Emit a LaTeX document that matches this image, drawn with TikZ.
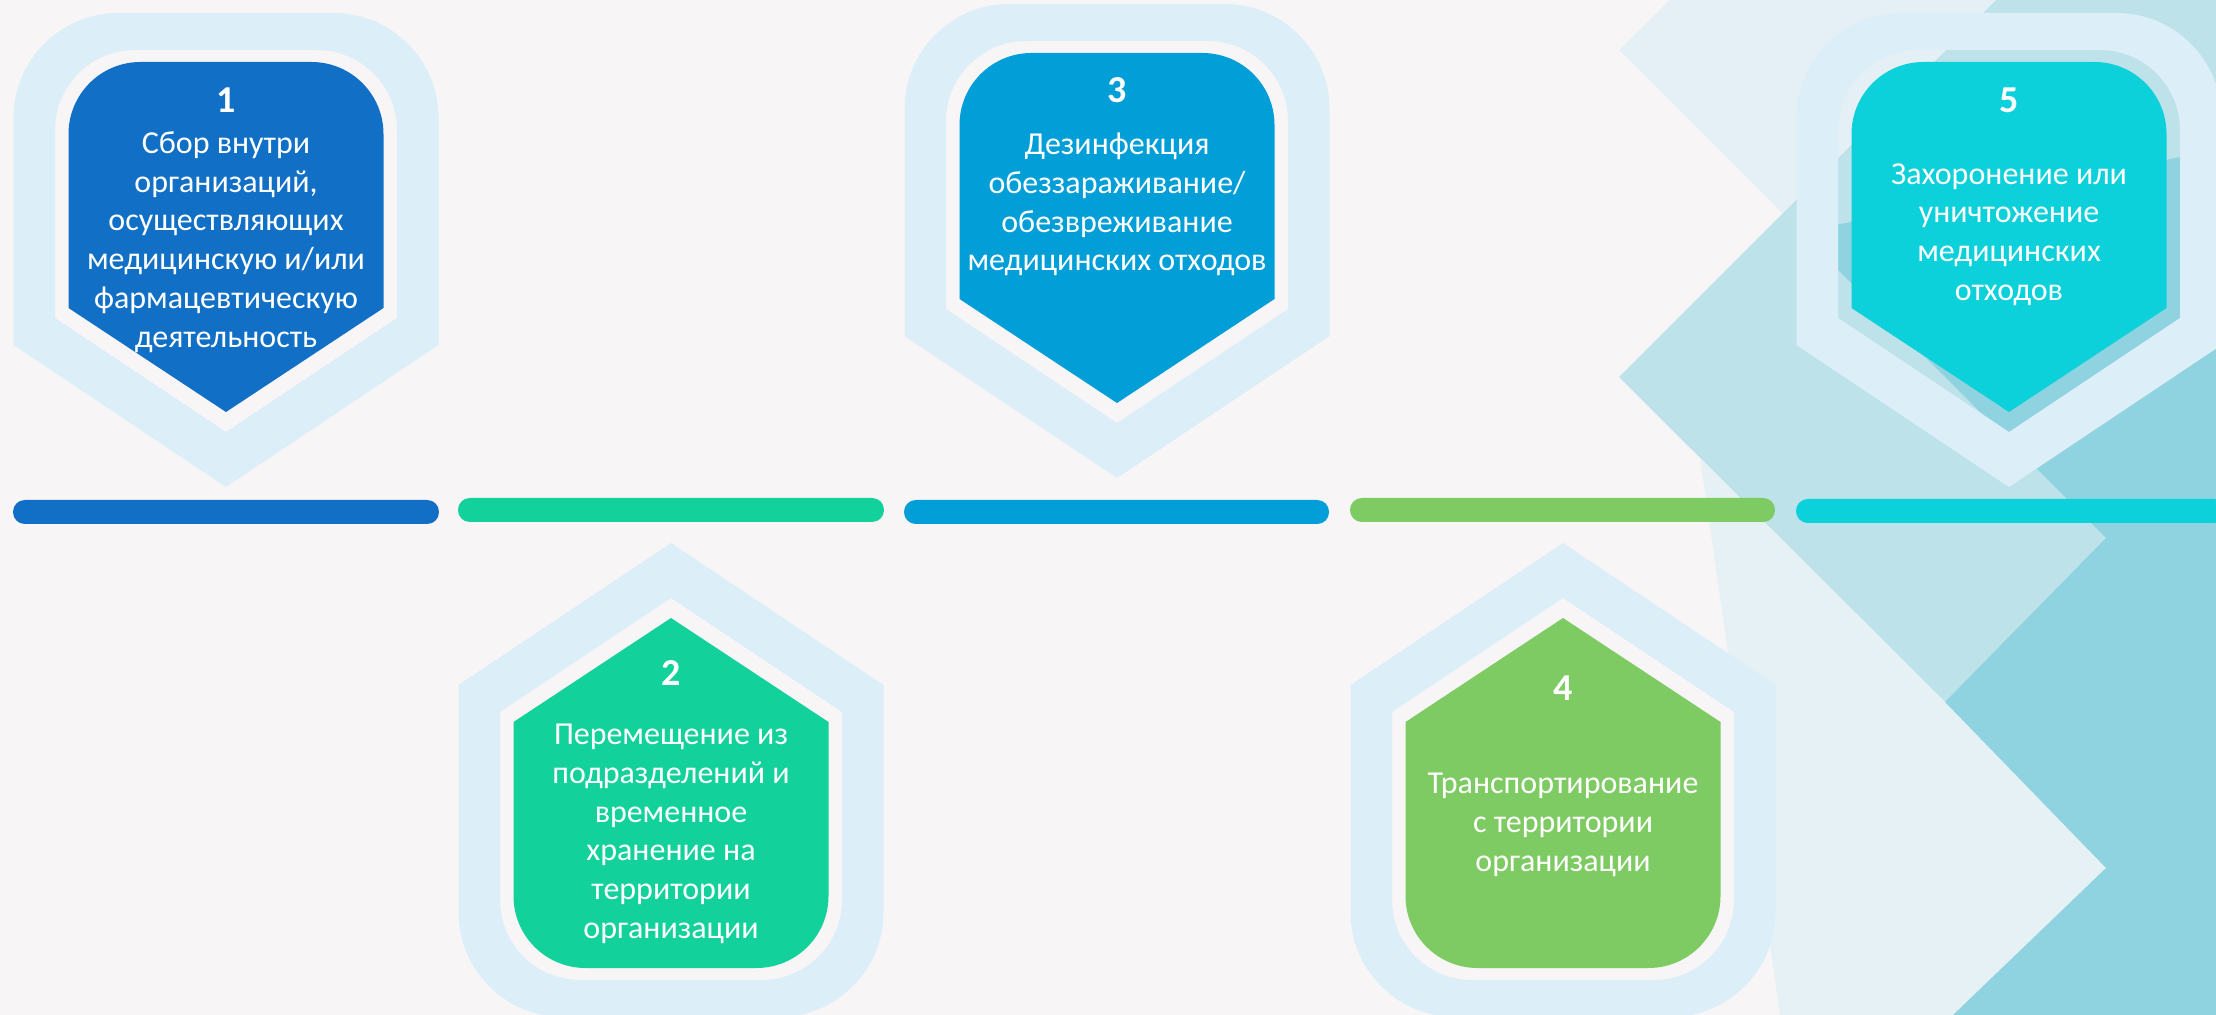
\documentclass[tikz,border=0pt]{standalone}
\usepackage{fontspec}
\setmainfont{Carlito}
\definecolor{bgc}{HTML}{F7F5F6}
\definecolor{bandc}{HTML}{DCEEF7}
\definecolor{cA}{HTML}{1170C5}
\definecolor{cB}{HTML}{13D19B}
\definecolor{cC}{HTML}{029ED8}
\definecolor{cD}{HTML}{7ECB63}
\definecolor{cE}{HTML}{0CD0DA}
\definecolor{bgL}{HTML}{E4F0F5}
\definecolor{bgM}{HTML}{BEE2EA}
\definecolor{bgD}{HTML}{8FD3E1}
\definecolor{bgS}{HTML}{E6F1F5}
% pentagon with two rounded corners: cx, half width, y of flat edge, y where sides end, y of apex, radius, sign
\newcommand\pentpath[7]{({#1-#2},{#4}) -- ({#1-#2},{#3+(#7)*(#6)}) arc[start angle=180, end angle={180+(#7)*90}, radius={#6}] -- ({#1+#2-#6},{#3}) arc[start angle={180+(#7)*90}, end angle={180+(#7)*180}, radius={#6}] -- ({#1+#2},{#4}) -- ({#1},{#5}) -- cycle}
% stage: cx, B (flat edge of outer band), s (+1 points down, -1 points up), colour
\newcommand\stagebox[4]{%
  \fill[bandc, even odd rule] \pentpath{#1}{212.5}{#2}{#2+(#3)*332}{#2+(#3)*474}{105}{#3} \pentpath{#1}{171}{#2+(#3)*37}{#2+(#3)*305}{#2+(#3)*419}{80}{#3};
  \fill[#4] \pentpath{#1}{157.5}{#2+(#3)*49}{#2+(#3)*295}{#2+(#3)*399}{72}{#3};
}
\tikzset{
  numtxt/.style={text=white, inner sep=0pt, font=\fontsize{19}{22}\selectfont\bfseries},
  bodytxt/.style={text=white, inner sep=0pt, align=center, font=\fontsize{16}{19.35}\selectfont},
  barfill/.style={rounded corners=5.9pt}
}
\begin{document}
\begin{tikzpicture}[x=0.5pt,y=-0.5pt]
\useasboundingbox (0,0) rectangle (2216,1015);
\clip (0,0) rectangle (2216,1015);
\fill[bgc] (0,0) rectangle (2216,1015);
% background facets
\fill[bgL] (1670,0) -- (1619,50) -- (1782,213) -- (1996,0) -- cycle;
\fill[bgM] (1996,0) -- (1619,377) -- (1945,702) -- (2216,431) -- (2216,0) -- cycle;
\fill[bgS] (1700,458) -- (1945,702) -- (2106,868) -- (1953,1015) -- (1780,1015) -- cycle;
\fill[bgD] (1945,702) -- (2106,538) -- (1800,232) -- (2216,150) -- (2216,1015) -- (1953,1015) -- (2106,868) -- cycle;
% stages
\stagebox{226}{13}{1}{cA}
\stagebox{671}{1017}{-1}{cB}
\stagebox{1117}{4}{1}{cC}
\stagebox{1563}{1017}{-1}{cD}
\stagebox{2009}{13}{1}{cE}
% timeline bars
\fill[cA, barfill] (13,500) rectangle (439,524);
\fill[cB, barfill] (458,498) rectangle (884,522);
\fill[cC, barfill] (904,500) rectangle (1329,524);
\fill[cD, barfill] (1350,498) rectangle (1775,522);
\fill[cE, barfill] (1796,499) rectangle (2226,523);
% texts
\node[numtxt] (num1) at (226,100) {1};
\node[bodytxt] (txt1) at (226,242) {Сбор внутри\\организаций,\\осуществляющих\\медицинскую и/или\\фармацевтическую\\деятельность};
\node[numtxt] (num2) at (671,673) {2};
\node[bodytxt] (txt2) at (671,834) {Перемещение из\\подразделений и\\временное\\хранение на\\территории\\организации};
\node[numtxt] (num3) at (1117,90) {3};
\node[bodytxt] (txt3) at (1117,204.5) {Дезинфекция\\обеззараживание/\\обезвреживание\\медицинских отходов};
\node[numtxt] (num4) at (1563,688) {4};
\node[bodytxt] (txt4) at (1563,825) {Транспортирование\\с территории\\организации};
\node[numtxt] (num5) at (2009,100) {5};
\node[bodytxt] (txt5) at (2009,234.5) {Захоронение или\\уничтожение\\медицинских\\отходов};
\end{tikzpicture}
\end{document}
